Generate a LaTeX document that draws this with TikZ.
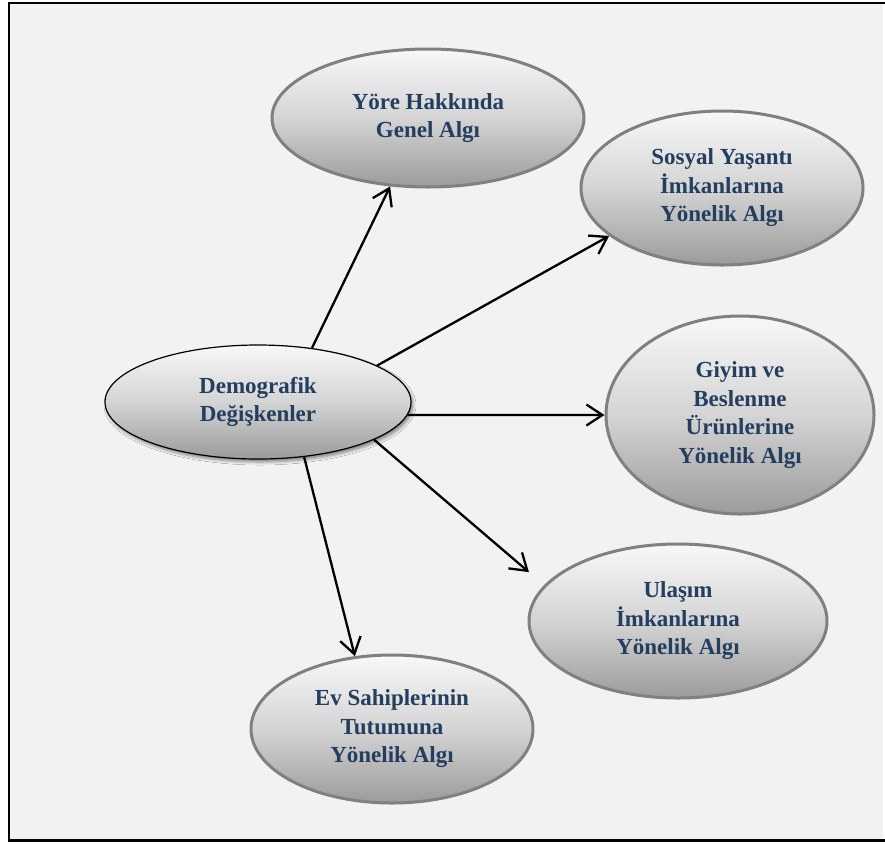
\documentclass[tikz,border=0pt]{standalone}
\usepackage{fontspec}
\setmainfont{Liberation Serif}
\usetikzlibrary{shapes.geometric,arrows.meta,shadows.blur}
\definecolor{txt}{RGB}{35,62,95}
\definecolor{bgc}{RGB}{242,242,242}
\definecolor{topc}{RGB}{248,248,248}
\definecolor{midc}{RGB}{212,212,212}
\definecolor{botc}{RGB}{155,155,155}
\definecolor{ovalline}{RGB}{128,128,128}
\begin{document}
\begin{tikzpicture}[x=1pt,y=-1pt,
  oval/.style={ellipse, draw=ovalline, line width=3pt, top color=topc, bottom color=botc, middle color=midc,
    inner sep=0pt, font=\fontsize{23}{28.5}\selectfont\bfseries, text=txt, align=center},
  centre/.style={oval, draw=black, line width=1.2pt,
    blur shadow={shadow xshift=2pt, shadow yshift=-3pt, shadow blur radius=3pt, shadow opacity=45}},
  arr/.style={draw=black, line width=2.3pt, -{Straight Barb[length=16pt,width=21pt]}}]
\useasboundingbox (0,0) rectangle (885,844);
\fill[bgc] (9,3) rectangle (883,840.5);
\draw[line width=2.6pt] (885,3) -- (9,3) -- (9,840.5) -- (885,840.5);

\node[centre, minimum width=306pt, minimum height=114pt] (dem) at (258,402) {Demografik\\Değişkenler};
\node[oval, minimum width=312pt, minimum height=138pt] (yore) at (428,118) {Yöre Hakkında\\Genel Algı};
\node[oval, minimum width=282pt, minimum height=154pt] (sosyal) at (722,188) {Sosyal Yaşantı\\İmkanlarına\\Yönelik Algı};
\node[oval, minimum width=268pt, minimum height=198pt] (giyim) at (740,415) {Giyim ve\\Beslenme\\Ürünlerine\\Yönelik Algı};
\node[oval, minimum width=298pt, minimum height=154pt] (ulasim) at (678,621) {Ulaşım\\İmkanlarına\\Yönelik Algı};
\node[oval, minimum width=282pt, minimum height=148pt] (ev) at (392,729) {Ev Sahiplerinin\\Tutumuna\\Yönelik Algı};

\draw[arr] (dem.45.5) -- (yore.241);
\draw[arr] (dem.17.5) -- (sosyal.203);
\draw[arr] (dem.-5) -- (giyim.180);
\draw[arr, shorten >=20pt] (dem.-18.7) -- (ulasim.165.8);
\draw[arr] (dem.-50.3) -- (ev.117.2);
\end{tikzpicture}
\end{document}
